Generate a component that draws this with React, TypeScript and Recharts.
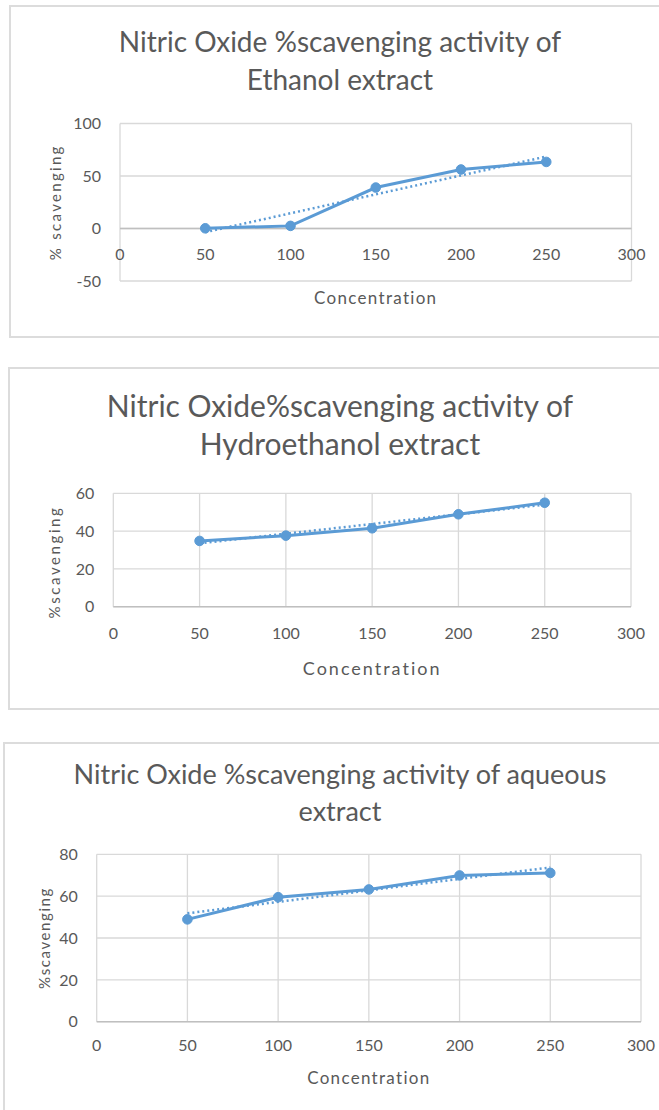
import { ComposedChart, Line, XAxis, YAxis, CartesianGrid, ReferenceLine, ReferenceDot, Label } from "recharts"

// concentration (x) for every extract
const concentrations = [50, 100, 150, 200, 250]
const xTicks = [0, 50, 100, 150, 200, 250, 300]

// % scavenging
const ethanolValues = [0.2, 2.5, 39, 56.2, 63.4]
const hydroValues = [34.8, 37.6, 41.5, 48.9, 55]
const aqueousValues = [48.9, 59.5, 63.2, 69.9, 71.1]

// linear trendline ends (at 50 and 250)
const trendX = [50, 250]
const ethanolTrend = [-3.5, 68.5]
const hydroTrend = [33.5, 54]
const aqueousTrend = [51.8, 73.7]

const ethanolTicks = [-50, 0, 50, 100]
const hydroTicks = [0, 20, 40, 60]
const aqueousTicks = [0, 20, 40, 60, 80]

const BLUE = "#5B9BD5"
const TEXT = "#595959"
const GRID = "#D9D9D9"
const AXIS = "#BFBFBF"
const FONT = "Lato, 'Open Sans', sans-serif"

const toRows = (xs: number[], ys: number[]) => xs.map((x, i) => ({ x, v: ys[i] }))

function YTitle({ viewBox, value, offset, shift = 0, spacing }: any) {
  const x = viewBox.x + offset
  const y = viewBox.y + viewBox.height / 2 + shift
  return (
    <text
      x={x}
      y={y}
      transform={`rotate(-90 ${x} ${y})`}
      textAnchor="middle"
      dominantBaseline="central"
      fill={TEXT}
      fontSize={15}
      fontFamily={FONT}
      letterSpacing={spacing}
    >
      {value}
    </text>
  )
}

interface PanelProps {
  title: string[]
  titleTop: number
  titleSize: number
  titleLH: number
  box: { left: number; top: number; height: number }
  top: number
  height: number
  marginTop: number
  marginRight: number
  yWidth: number
  xHeight: number
  yTicks: number[]
  values: number[]
  trend: number[]
  yTitle: string
  yTitleX: number
  yTitleShift?: number
  yTitleSpacing: number
  xTitleOffset: number
  xTitleSize: number
  xTitleSpacing: number
  xTickMargin: number
  axisAtZero?: boolean
}

function Panel(p: PanelProps) {
  const points = toRows(concentrations, p.values)
  const trend = toRows(trendX, p.trend)
  const domain: [number, number] = [p.yTicks[0], p.yTicks[p.yTicks.length - 1]]
  return (
    <>
      <div
        style={{
          position: "absolute",
          left: p.box.left,
          top: p.box.top,
          width: 700,
          height: p.box.height,
          border: "2px solid #DCDCDC",
          boxSizing: "border-box",
        }}
      />
      <div
        style={{
          position: "absolute",
          left: 0,
          top: p.titleTop,
          width: 680,
          textAlign: "center",
          fontFamily: FONT,
          fontSize: p.titleSize,
          lineHeight: `${p.titleLH}px`,
          color: TEXT,
          whiteSpace: "nowrap",
        }}
      >
        {p.title.map((t) => (
          <div key={t}>{t}</div>
        ))}
      </div>
      <div style={{ position: "absolute", left: 0, top: p.top }}>
        <ComposedChart
          width={659}
          height={p.height}
          margin={{ top: p.marginTop, right: p.marginRight, bottom: 0, left: 0 }}
        >
          <CartesianGrid stroke={GRID} strokeWidth={1.3} />
          <XAxis
            dataKey="x"
            type="number"
            domain={[0, 300]}
            ticks={xTicks}
            height={p.xHeight}
            tick={p.axisAtZero ? false : { fill: TEXT, fontSize: 16, fontFamily: FONT }}
            tickLine={false}
            tickSize={0}
            tickMargin={p.xTickMargin}
            axisLine={p.axisAtZero ? false : { stroke: AXIS, strokeWidth: 1.5 }}
          >
            <Label
              value="Concentration"
              position="insideTop"
              offset={p.xTitleOffset}
              fill={TEXT}
              fontSize={p.xTitleSize}
              fontFamily={FONT}
              letterSpacing={p.xTitleSpacing}
            />
          </XAxis>
          <YAxis
            type="number"
            domain={domain}
            ticks={p.yTicks}
            width={p.yWidth}
            tick={{ fill: TEXT, fontSize: 16, fontFamily: FONT }}
            tickLine={false}
            tickSize={0}
            tickMargin={19}
            axisLine={false}
          >
            <Label
              content={(props: any) => (
                <YTitle
                  viewBox={props.viewBox}
                  value={p.yTitle}
                  offset={p.yTitleX}
                  shift={p.yTitleShift}
                  spacing={p.yTitleSpacing}
                />
              )}
            />
          </YAxis>
          {p.axisAtZero && <ReferenceLine y={0} stroke={AXIS} strokeWidth={1.5} />}
          {p.axisAtZero &&
            xTicks.map((t) => (
              <ReferenceDot
                key={t}
                x={t}
                y={0}
                r={0}
                stroke="none"
                label={{ value: t, position: "bottom", offset: 20, fill: TEXT, fontSize: 16, fontFamily: FONT }}
              />
            ))}
          <Line
            data={trend}
            dataKey="v"
            stroke={BLUE}
            strokeWidth={2.5}
            strokeDasharray="2 3"
            dot={false}
            isAnimationActive={false}
          />
          <Line
            data={points}
            dataKey="v"
            stroke={BLUE}
            strokeWidth={3}
            dot={{ r: 4.8, fill: BLUE, stroke: BLUE, strokeWidth: 1 }}
            isAnimationActive={false}
          />
        </ComposedChart>
      </div>
    </>
  )
}

export default function App() {
  return (
    <div
      style={{
        position: "absolute",
        left: 0,
        top: 0,
        width: 659,
        height: 1110,
        overflow: "hidden",
        background: "#fff",
        fontFamily: FONT,
      }}
    >
      <Panel
        title={["Nitric Oxide %scavenging activity of", "Ethanol extract"]}
        titleTop={22}
        titleSize={28}
        titleLH={38}
        box={{ left: 9, top: 5, height: 333 }}
        top={100}
        height={237}
        marginTop={23.5}
        marginRight={27.5}
        yWidth={120}
        xHeight={56}
        yTicks={ethanolTicks}
        values={ethanolValues}
        trend={ethanolTrend}
        yTitle="% scavenging"
        yTitleX={55}
        yTitleSpacing={2.3}
        xTitleOffset={11}
        xTitleSize={17}
        xTitleSpacing={1.3}
        xTickMargin={20}
        axisAtZero
      />
      <Panel
        title={["Nitric Oxide%scavenging activity of", "Hydroethanol extract"]}
        titleTop={386}
        titleSize={30}
        titleLH={38}
        box={{ left: 8, top: 367, height: 343 }}
        top={470}
        height={240}
        marginTop={23.3}
        marginRight={28}
        yWidth={113.3}
        xHeight={103.3}
        yTicks={hydroTicks}
        values={hydroValues}
        trend={hydroTrend}
        yTitle="%scavenging"
        yTitleX={54}
        yTitleShift={12}
        yTitleSpacing={2.6}
        xTitleOffset={56}
        xTitleSize={18}
        xTitleSpacing={2}
        xTickMargin={20.5}
      />
      <Panel
        title={["Nitric Oxide %scavenging activity of aqueous", "extract"]}
        titleTop={756}
        titleSize={27}
        titleLH={36.5}
        box={{ left: 3, top: 742, height: 400 }}
        top={830}
        height={280}
        marginTop={24.3}
        marginRight={18}
        yWidth={96.7}
        xHeight={88.3}
        yTicks={aqueousTicks}
        values={aqueousValues}
        trend={aqueousTrend}
        yTitle="%scavenging"
        yTitleX={44}
        yTitleSpacing={1.6}
        xTitleOffset={50.5}
        xTitleSize={17}
        xTitleSpacing={1.3}
        xTickMargin={17.7}
      />
    </div>
  )
}
